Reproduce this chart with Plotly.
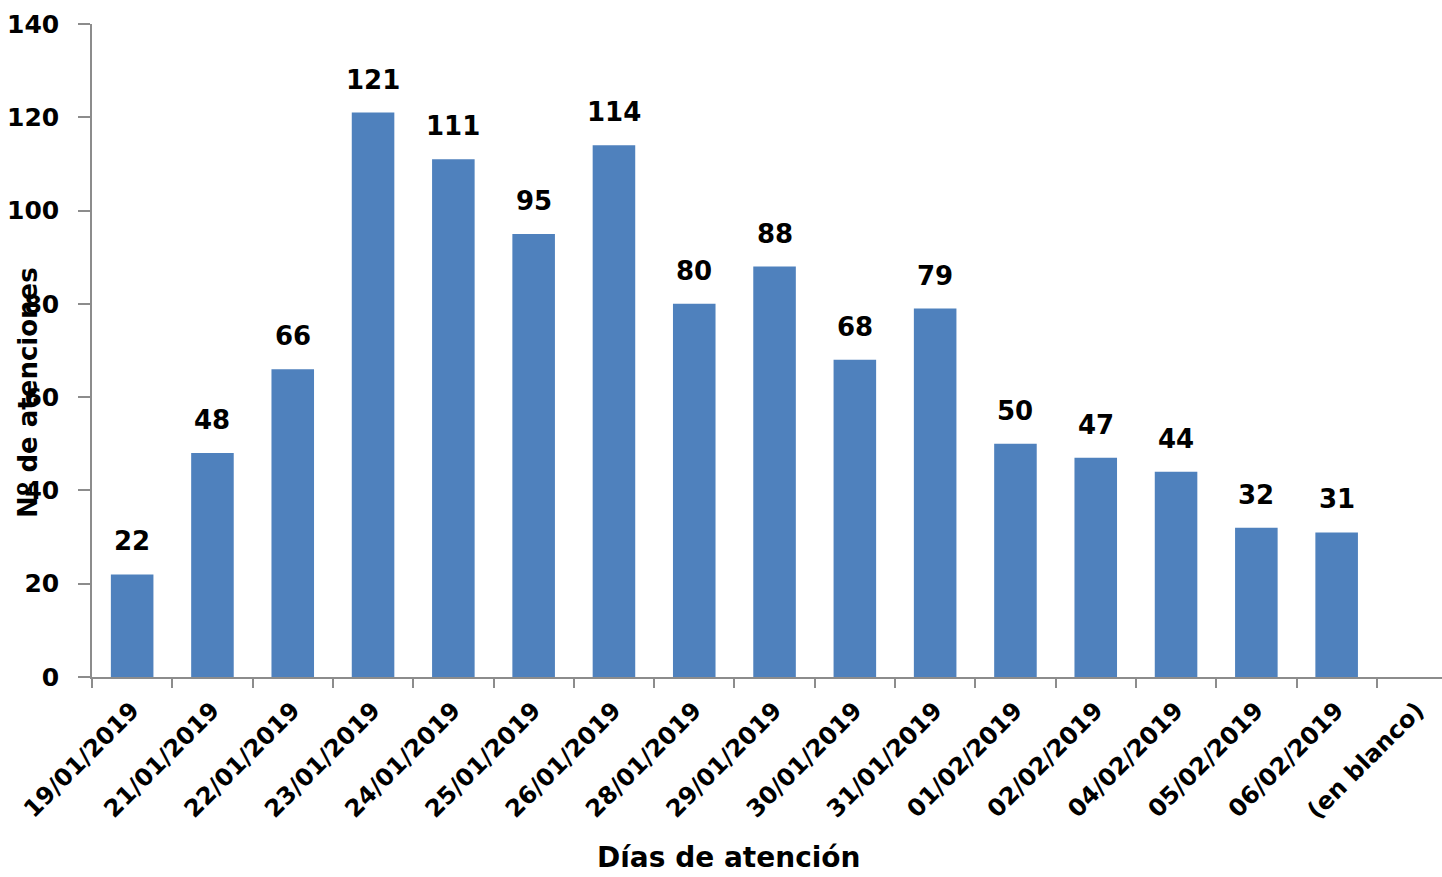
import plotly.graph_objects as go

categories = ["19/01/2019", "21/01/2019", "22/01/2019", "23/01/2019", "24/01/2019",
              "25/01/2019", "26/01/2019", "28/01/2019", "29/01/2019", "30/01/2019",
              "31/01/2019", "01/02/2019", "02/02/2019", "04/02/2019", "05/02/2019",
              "06/02/2019", "(en blanco)"]
values = [22, 48, 66, 121, 111, 95, 114, 80, 88, 68, 79, 50, 47, 44, 32, 31, None]
y_ticks = [0, 20, 40, 60, 80, 100, 120, 140]
x_title = "Días de atención"
y_title = "Nº de atenciones"

FONT = "DejaVu Sans"
W, H = 1442, 877
ml, mr, mt, mb = 92, 0, 24, 200
cat_px = 80.3  # pixel width of one category in the reference (chart is cropped at right)
pw = W - ml - mr
ph = H - mt - mb
x_range = [-0.5, -0.5 + pw / cat_px]

fig = go.Figure()
fig.add_trace(go.Bar(x=categories, y=values, marker=dict(color="#4F81BD", line=dict(width=0)),
                     hoverinfo="x+y"))

for c, v in zip(categories, values):
    if v is None:
        continue
    fig.add_annotation(x=c, y=v, text=f"<b>{v}</b>", showarrow=False, yanchor="middle",
                       yshift=33, font=dict(family=FONT, size=26, color="#000000"))

fig.add_annotation(xref="paper", yref="paper", x=(729 - ml) / pw, y=-(876 - (H - mb)) / ph,
                   text=f"<b>{x_title}</b>", showarrow=False, xanchor="center", yanchor="bottom",
                   font=dict(family=FONT, size=28, color="#000000"))
fig.add_annotation(xref="paper", yref="paper", x=(28 - ml) / pw, y=((H - mb) - 393) / ph,
                   text=f"<b>{y_title}</b>", showarrow=False, textangle=-90,
                   xanchor="center", yanchor="middle",
                   font=dict(family=FONT, size=26, color="#000000"))

fig.update_layout(
    width=W, height=H,
    margin=dict(l=ml, r=mr, t=mt, b=mb, pad=0),
    paper_bgcolor="white", plot_bgcolor="white",
    bargap=0.47, showlegend=False,
    font=dict(family=FONT, color="#000000"),
)
fig.update_xaxes(
    type="category", categoryorder="array", categoryarray=categories, range=x_range,
    tickangle=-45, tickfont=dict(family=FONT, size=24, color="#000000", weight="bold"),
    ticklabelstandoff=8,
    showline=True, linecolor="#8c8c8c", linewidth=1.5,
    ticks="outside", tickson="boundaries", ticklen=9, tickcolor="#8c8c8c", tickwidth=1.5,
    showgrid=False, zeroline=False,
)
fig.update_yaxes(
    range=[0, 140], tickvals=y_ticks, ticktext=[str(t) for t in y_ticks],
    tickfont=dict(family=FONT, size=25, color="#000000", weight="bold"),
    ticklabelstandoff=14,
    showline=True, linecolor="#8c8c8c", linewidth=1.5,
    ticks="outside", ticklen=12, tickcolor="#8c8c8c", tickwidth=1.5,
    showgrid=False, zeroline=False,
)

fig.write_html("out.html", config={"displayModeBar": False},
               post_script="document.body.style.margin='0px';document.body.style.overflow='hidden';")
